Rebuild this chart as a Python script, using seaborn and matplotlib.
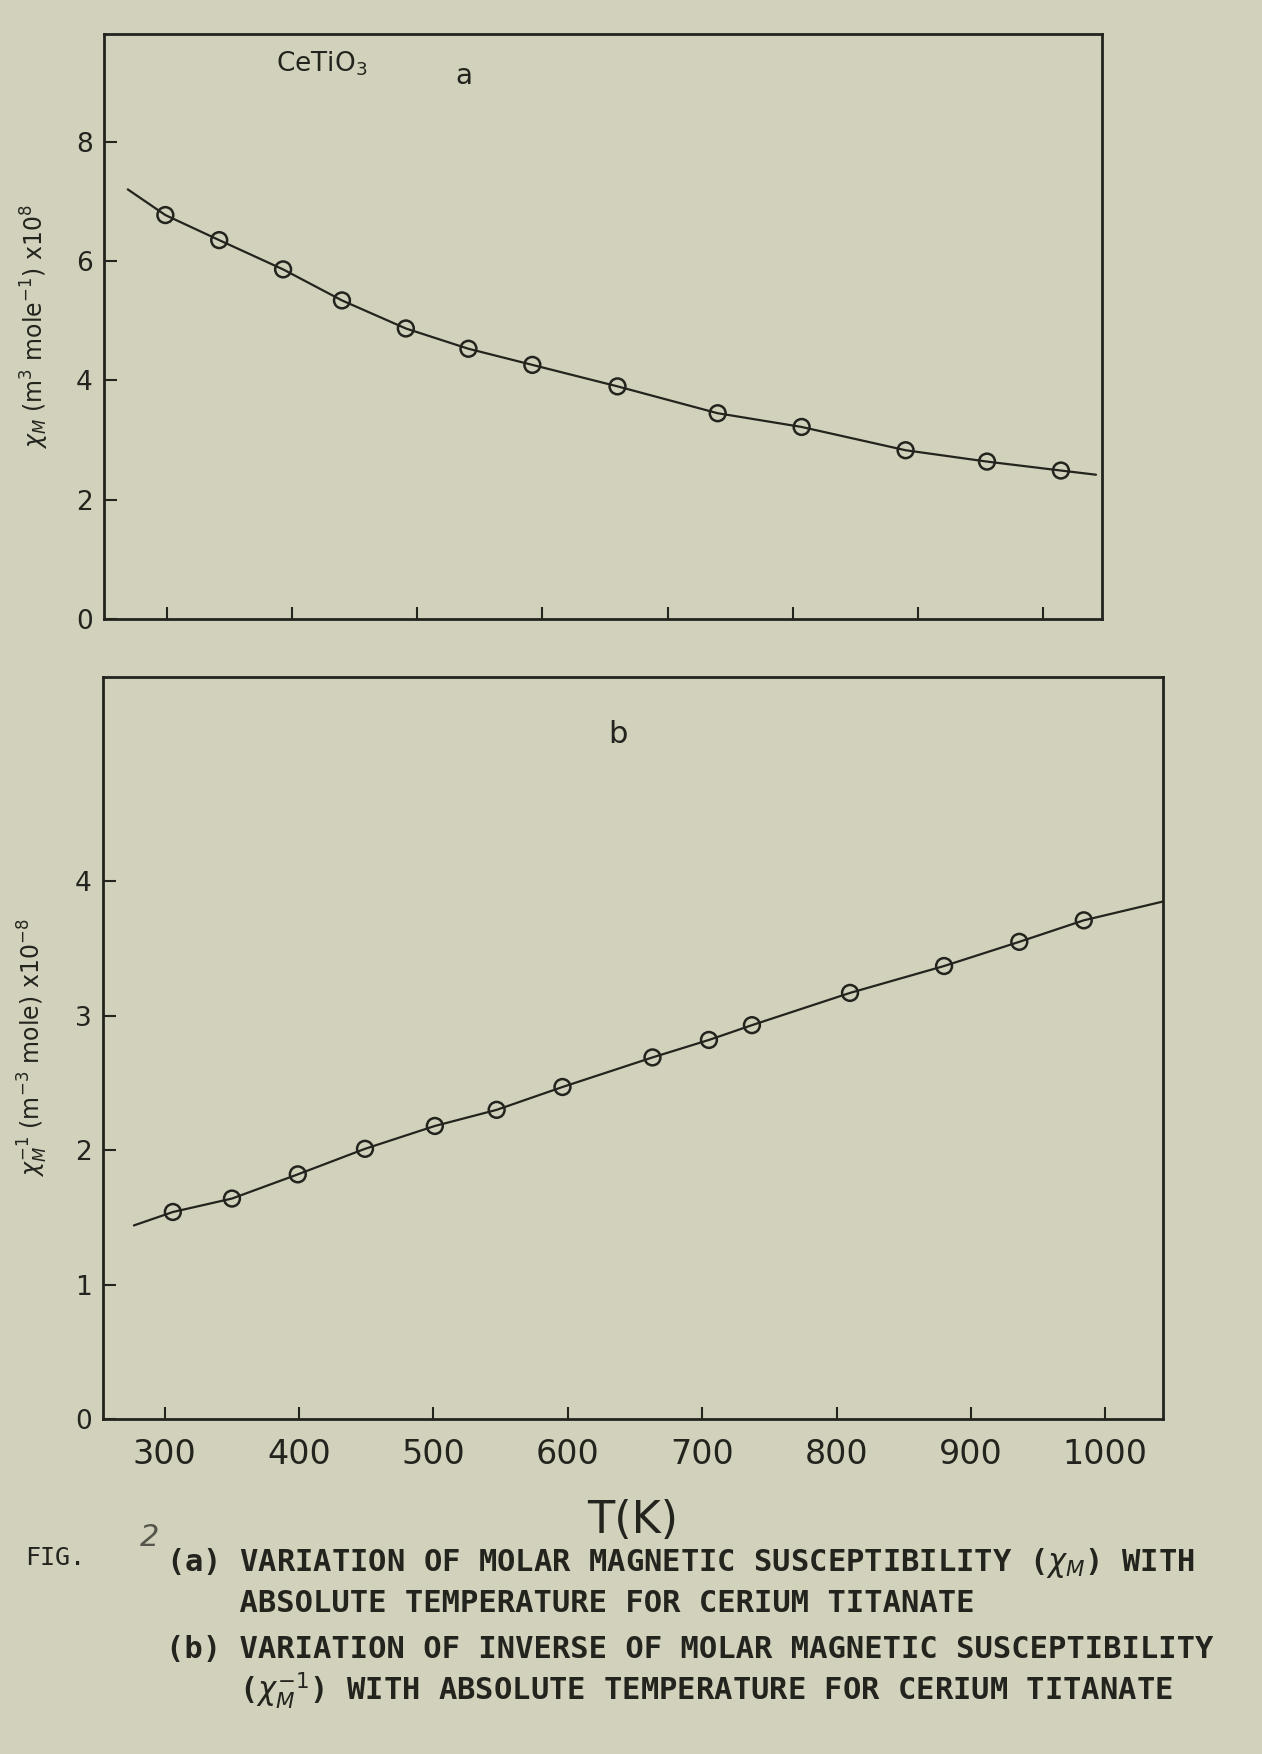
import matplotlib
matplotlib.use('Agg')
import matplotlib.pyplot as plt
import seaborn as sns
import numpy as np

# panel a: molar susceptibility (x10^8)
temp_a = [299, 342, 393, 440, 491, 541, 592, 660, 740, 807, 890, 955, 1014]
chi_a = [6.77, 6.35, 5.86, 5.34, 4.87, 4.53, 4.26, 3.90, 3.45, 3.22, 2.83, 2.64, 2.49]
line_temp_a = [269, 299, 342, 393, 440, 491, 541, 592, 660, 740, 807, 890, 955, 1014, 1042]
line_chi_a = [7.20, 6.77, 6.35, 5.86, 5.34, 4.87, 4.53, 4.26, 3.90, 3.45, 3.22, 2.83, 2.64, 2.49, 2.42]

# panel b: inverse susceptibility (x10^-8)
temp_b = [306, 350, 399, 449, 501, 547, 596, 663, 705, 737, 810, 880, 936, 984]
inv_chi_b = [1.54, 1.64, 1.82, 2.01, 2.18, 2.30, 2.47, 2.69, 2.82, 2.93, 3.17, 3.37, 3.55, 3.71]
line_temp_b = [277, 306, 350, 399, 449, 501, 547, 596, 663, 705, 737, 810, 880, 936, 984, 1043]
line_inv_b = [1.44, 1.54, 1.64, 1.82, 2.01, 2.18, 2.30, 2.47, 2.69, 2.82, 2.93, 3.17, 3.37, 3.55, 3.71, 3.85]

x_ticks = [300, 400, 500, 600, 700, 800, 900, 1000]
ticks_a = [0, 2, 4, 6, 8]
ticks_b = [0, 1, 2, 3, 4]

caption = [
    "(a) VARIATION OF MOLAR MAGNETIC SUSCEPTIBILITY ($\\chi_M$) WITH",
    "    ABSOLUTE TEMPERATURE FOR CERIUM TITANATE",
    "(b) VARIATION OF INVERSE OF MOLAR MAGNETIC SUSCEPTIBILITY",
    "    ($\\chi_M^{-1}$) WITH ABSOLUTE TEMPERATURE FOR CERIUM TITANATE",
]

sns.set_theme(style='ticks')
plt.rcParams['font.family'] = ['DejaVu Sans']
plt.rcParams['mathtext.fontset'] = 'dejavusans'

paper = '#d2d2bc'
ink = '#24241f'

fig = plt.figure(figsize=(12.62, 17.54), dpi=100, facecolor=paper)
ax_a = fig.add_axes([0.0824, 0.647, 0.791, 0.3335], facecolor=paper)
ax_b = fig.add_axes([0.0816, 0.191, 0.840, 0.423], facecolor=paper)

for ax in (ax_a, ax_b):
    for s in ax.spines.values():
        s.set_color(ink)
        s.set_linewidth(2)
    ax.tick_params(direction='in', length=9, width=1.5, colors=ink,
                   labelsize=19, pad=8)
    ax.set_xticks(x_ticks)

# panel a
sns.lineplot(x=line_temp_a, y=line_chi_a, ax=ax_a, color=ink, lw=1.6, sort=False)
sns.scatterplot(x=temp_a, y=chi_a, ax=ax_a, marker='o', s=130,
                facecolor='none', edgecolor=ink, linewidth=1.8, zorder=3)
ax_a.set_xlim(250, 1047)
ax_a.set_ylim(0, 9.8)
ax_a.set_yticks(ticks_a)
ax_a.set_xticklabels([])
ax_a.set_ylabel('$\\chi_M$ (m$^3$ mole$^{-1}$) x10$^8$', fontsize=17, color=ink, labelpad=18)
ax_a.text(424, 9.3, 'CeTiO$_3$', fontsize=19, color=ink, ha='center', va='center')
ax_a.text(537, 9.1, 'a', fontsize=20, color=ink, ha='center', va='center')

# panel b
sns.lineplot(x=line_temp_b, y=line_inv_b, ax=ax_b, color=ink, lw=1.6, sort=False)
sns.scatterplot(x=temp_b, y=inv_chi_b, ax=ax_b, marker='o', s=130,
                facecolor='none', edgecolor=ink, linewidth=1.8, zorder=3)
ax_b.set_xlim(254, 1043)
ax_b.set_ylim(0, 5.52)
ax_b.set_yticks(ticks_b)
ax_b.tick_params(axis='x', labelsize=24, pad=14)
ax_b.set_ylabel('$\\chi_M^{-1}$ (m$^{-3}$ mole) x10$^{-8}$', fontsize=17, color=ink, labelpad=18)
ax_b.set_xlabel('T(K)', fontsize=32, color=ink, labelpad=20)
ax_b.text(637, 5.09, 'b', fontsize=22, color=ink, ha='center', va='center')

# caption
H = 1754.0
fig.text(25 / 1262, 1 - 1558 / H, 'FIG.', fontsize=18, color=ink,
         family='DejaVu Sans Mono', va='center')
fig.text(140 / 1262, 1 - 1537 / H, '2', fontsize=22, color='#55554c',
         style='italic', va='center')
ys = [1563, 1604, 1650, 1691]
for line, y in zip(caption, ys):
    fig.text(166 / 1262, 1 - y / H, line, fontsize=22, color=ink,
             family='DejaVu Sans Mono', fontweight='bold', va='center')

fig.savefig('out.png', dpi=100, facecolor=paper)
